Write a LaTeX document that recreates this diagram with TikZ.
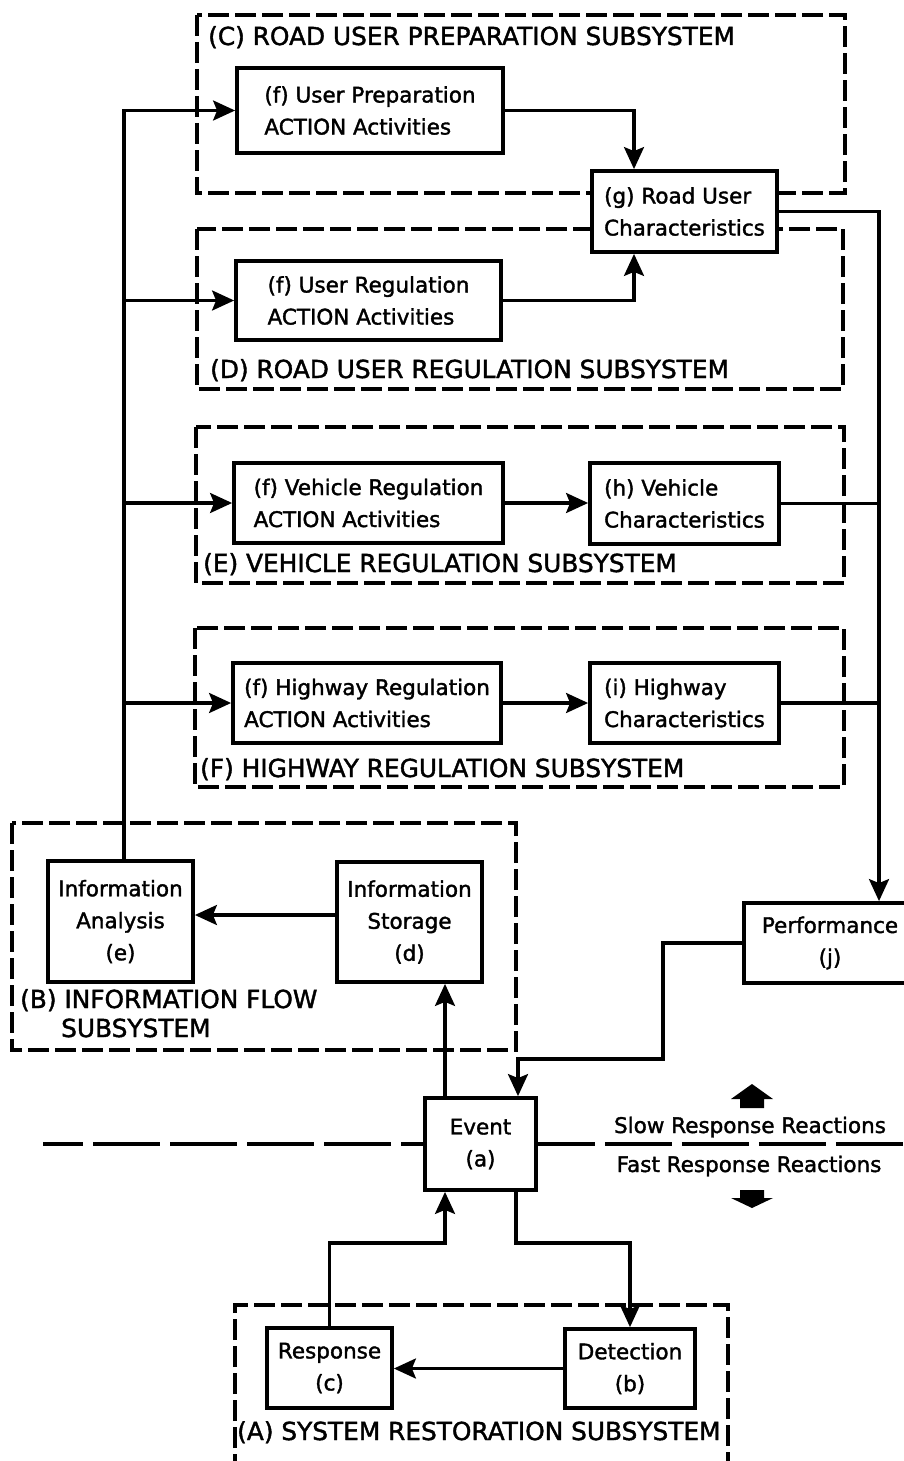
\documentclass[tikz,border=0pt]{standalone}
\usepackage{fontspec}
\setmainfont{DejaVu Sans}[RawFeature={embolden=1.6}]
\usetikzlibrary{arrows.meta,calc}
\begin{document}
\begin{tikzpicture}[x=1pt,y=-1pt,
  box/.style={draw,line width=3.8pt,fill=white,inner sep=0pt,align=center,
    font=\fontsize{21.5}{32}\selectfont},
  lbox/.style={box,align=left},
  subsys/.style={draw,line width=3.2pt,dash pattern=on 21pt off 6pt},
  sublabel/.style={anchor=base west,inner sep=0pt,font=\fontsize{24.8}{30}\selectfont},
  plain/.style={anchor=base,inner sep=0pt,font=\fontsize{21.5}{32}\selectfont},
  conn/.style={line width=3.2pt},
  arr/.style={conn,-{Stealth[length=22pt,width=20pt,inset=4pt]}},
  sepline/.style={line width=3.2pt,dash pattern=on 67pt off 10pt},
  ]
\useasboundingbox (0,0) rectangle (904,1461);

% subsystem frames
\draw[subsys] (197,15) rectangle (845,193);
\draw[subsys] (197,229) rectangle (843,389);
\draw[subsys] (196,427) rectangle (844,583);
\draw[subsys] (195,628) rectangle (844,787);
\draw[subsys] (12,823) rectangle (516,1050);
\draw[subsys] (235,1475) -- (235,1305) -- (728,1305) -- (728,1475);

% subsystem titles
\node[sublabel] (labC) at (208,45) {(C) ROAD USER PREPARATION SUBSYSTEM};
\node[sublabel] (labD) at (210,378) {(D) ROAD USER REGULATION SUBSYSTEM};
\node[sublabel] (labE) at (203,572) {(E) VEHICLE REGULATION SUBSYSTEM};
\node[sublabel] (labF) at (200,777) {(F) HIGHWAY REGULATION SUBSYSTEM};
\node[sublabel] (labB1) at (20,1008) {(B) INFORMATION FLOW};
\node[sublabel] (labB2) at (61,1037) {SUBSYSTEM};
\node[sublabel] (labA) at (237,1440) {(A) SYSTEM RESTORATION SUBSYSTEM};

% activity and characteristic blocks
\node[lbox,minimum width=266pt,minimum height=85pt] (f1) at (370,110.5)
  {(f) User Preparation\\ACTION Activities};
\node[lbox,minimum width=185pt,minimum height=81pt] (g) at (684.5,211.5)
  {(g) Road User\\Characteristics};
\node[lbox,minimum width=265pt,minimum height=79pt] (f2) at (368.5,300.5)
  {(f) User Regulation\\ACTION Activities};
\node[lbox,minimum width=269pt,minimum height=80pt] (f3) at (368.5,503)
  {(f) Vehicle Regulation\\ACTION Activities};
\node[lbox,minimum width=189pt,minimum height=81pt] (h) at (684.5,503.5)
  {(h) Vehicle\\Characteristics};
\node[lbox,minimum width=268pt,minimum height=80pt] (f4) at (367,703)
  {(f) Highway Regulation\\ACTION Activities};
\node[lbox,minimum width=189pt,minimum height=80pt] (i) at (684.5,703)
  {(i) Highway\\Characteristics};

% information flow, performance and restoration blocks
\node[box,minimum width=145pt,minimum height=121pt] (e) at (120.5,921.5)
  {Information\\Analysis\\(e)};
\node[box,minimum width=145pt,minimum height=120pt] (d) at (409.5,922)
  {Information\\Storage\\(d)};
\node[box,minimum width=172pt,minimum height=80pt] (j) at (830,943)
  {Performance\\(j)};
\node[box,minimum width=111pt,minimum height=92pt] (a) at (480.5,1144)
  {Event\\(a)};
\node[box,minimum width=125pt,minimum height=80pt] (c) at (329.5,1368)
  {Response\\(c)};
\node[box,minimum width=130pt,minimum height=79pt] (b) at (630,1368.5)
  {Detection\\(b)};

% slow / fast divider
\coordinate (sepL) at (43,1144);
\coordinate (sepR) at (904,1144);
\draw[sepline,dash phase=27pt] (sepL) -- (a.west);
\draw[sepline,dash phase=10pt] (a.east) -- (sepR);
\node[plain] (slow) at (750,1133) {Slow Response Reactions};
\node[plain] (fast) at (749,1172) {Fast Response Reactions};
\fill (752,1084) -- (773,1099) -- (764,1099) -- (764,1108) -- (740,1108)
  -- (740,1099) -- (731,1099) -- cycle;
\fill (752,1208) -- (773,1198) -- (764,1198) -- (764,1190) -- (740,1190)
  -- (740,1198) -- (731,1198) -- cycle;

% information distribution to the action activities
\draw[arr] ([xshift=3.5pt]e.north) |- (f1.west);
\draw[arr] ([xshift=3.5pt]e.north |- f2.west) -- (f2.west);
\draw[arr] ([xshift=3.5pt]e.north |- f3.west) -- (f3.west);
\draw[arr] ([xshift=3.5pt]e.north |- f4.west) -- (f4.west);

% actions to characteristics
\draw[arr] (f1.east) -| ([xshift=-50.5pt]g.north);
\draw[arr] (f2.east) -| ([xshift=-50.5pt]g.south);
\draw[arr] (f3.east) -- (f3.east -| h.west);
\draw[arr] (f4.east) -- (f4.east -| i.west);

% characteristics to performance
\draw[arr] (g.east) -| ([xshift=49pt]j.north);
\draw[conn] (h.east) -- ([xshift=49pt]j.north |- h.east);
\draw[conn] (i.east) -- ([xshift=49pt]j.north |- i.east);

% performance back to the event
\coordinate (jbend) at (663,1059);
\draw[arr] (j.west) -| (jbend) -| ([xshift=37.5pt]a.north);

% event to storage, storage to analysis
\draw[arr] ([xshift=-35.5pt]a.north) -- ([xshift=-35.5pt]a.north |- d.south);
\draw[arr] ([yshift=7pt]d.west) -- ([yshift=7pt]d.west -| e.east);

% restoration loop
\coordinate (bus) at (480,1243);
\draw[arr] ([xshift=35.5pt]a.south) -- ([xshift=35.5pt]a.south |- bus) -| (b.north);
\draw[arr] (b.west) -- (b.west -| c.east);
\draw[arr] (c.north) |- ([xshift=-35.5pt]a.south |- bus) -- ([xshift=-35.5pt]a.south);
\end{tikzpicture}
\end{document}
